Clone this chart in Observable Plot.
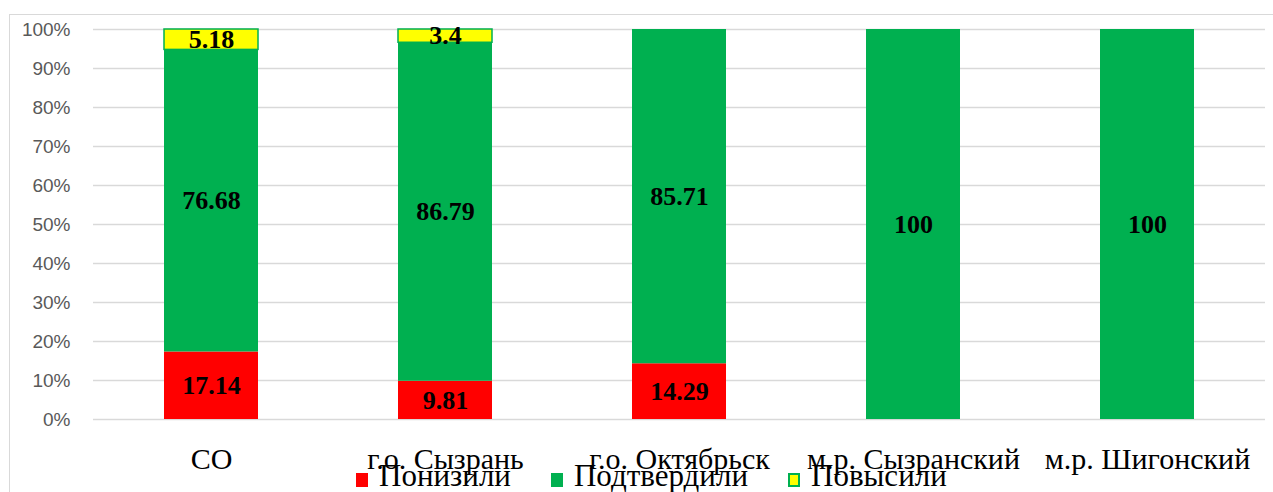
<!DOCTYPE html>
<html>
<head>
<meta charset="utf-8">
<script src="https://cdn.jsdelivr.net/npm/d3@7"></script>
<script src="https://cdn.jsdelivr.net/npm/@observablehq/plot@0.6"></script>
<style>
  html, body { margin: 0; padding: 0; background: #fff; }
  #wrap { position: relative; width: 1273px; height: 492px; overflow: hidden; }
  #frame { position: absolute; left: 9px; top: 14px; right: -2px; bottom: -2px; border: 1px solid #d9d9d9; pointer-events: none; }
  #legend { position: absolute; left: 356px; top: 458px; display: flex; align-items: center; font-family: "Liberation Serif", "Times New Roman", serif; font-size: 31px; color: #000; white-space: nowrap; }
  #legend .item { display: flex; align-items: center; margin-right: 40px; }
  #legend .sw { width: 12px; height: 14px; margin-right: 11px; margin-top: 8px; box-sizing: border-box; }
</style>
</head>
<body>
<div id="wrap"><div id="frame"></div><div id="legend"></div></div>
<script>
const categories = ["СО", "г.о. Сызрань", "г.о. Октябрьск", "м.р. Сызранский", "м.р. Шигонский"];
const seriesNames = ["Понизили", "Подтвердили", "Повысили"];
const ponizili = [17.14, 9.81, 14.29, 0, 0];
const podtverdili = [76.68, 86.79, 85.71, 100, 100];
const povysili = [5.18, 3.4, 0, 0, 0];
const seriesFill = ["#ff0000", "#00b050", "#ffff00"];
const seriesStroke = ["none", "none", "#00b050"];

const seriesValues = [ponizili, podtverdili, povysili];
const rows = [];
seriesNames.forEach((s, si) => {
  categories.forEach((c, ci) => {
    const v = seriesValues[si][ci];
    if (v > 0) rows.push({category: c, series: s, value: v, fill: seriesFill[si], stroke: seriesStroke[si]});
  });
});

const stackOpts = {x: "category", y: "value", z: "series", order: seriesNames, offset: "normalize"};

const chart = Plot.plot({
  width: 1273,
  height: 492,
  marginLeft: 93,
  marginRight: 8,
  marginTop: 29,
  marginBottom: 73,
  style: {background: "transparent", overflow: "visible"},
  x: {domain: categories, paddingInner: 0.6, paddingOuter: 0.3, label: null},
  y: {domain: [0, 1], label: null},
  color: {type: "identity"},
  marks: [
    Plot.gridY({ticks: 10, stroke: "#d9d9d9", strokeOpacity: 1, strokeWidth: 1.5}),
    Plot.axisY({ticks: 10, tickFormat: d3.format(".0%"), tickSize: 0, tickPadding: 23, fontSize: 19, fontFamily: "'Liberation Sans', Arial, sans-serif", fill: "#595959", label: null}),
    Plot.axisX({tickSize: 0, tickPadding: 28, fontSize: 30, fontFamily: "'Liberation Serif', 'Times New Roman', serif", fill: "#000", label: null}),
    Plot.barY(rows, Plot.stackY({...stackOpts, fill: "fill", stroke: "stroke", strokeWidth: 1.5})),
    Plot.text(rows, Plot.stackY({...stackOpts, text: d => String(d.value), fontSize: 26, fontWeight: "bold", fontFamily: "'Liberation Serif', 'Times New Roman', serif", fill: "#000"}))
  ]
});
chart.style.position = "absolute";
chart.style.left = "0";
chart.style.top = "0";
document.getElementById("wrap").prepend(chart);

const legend = document.getElementById("legend");
seriesNames.forEach((s, i) => {
  const item = document.createElement("div");
  item.className = "item";
  const sw = document.createElement("span");
  sw.className = "sw";
  sw.style.background = seriesFill[i];
  if (seriesStroke[i] !== "none") sw.style.border = `2px solid ${seriesStroke[i]}`;
  const label = document.createElement("span");
  label.textContent = s;
  item.appendChild(sw);
  item.appendChild(label);
  legend.appendChild(item);
});
</script>
</body>
</html>
